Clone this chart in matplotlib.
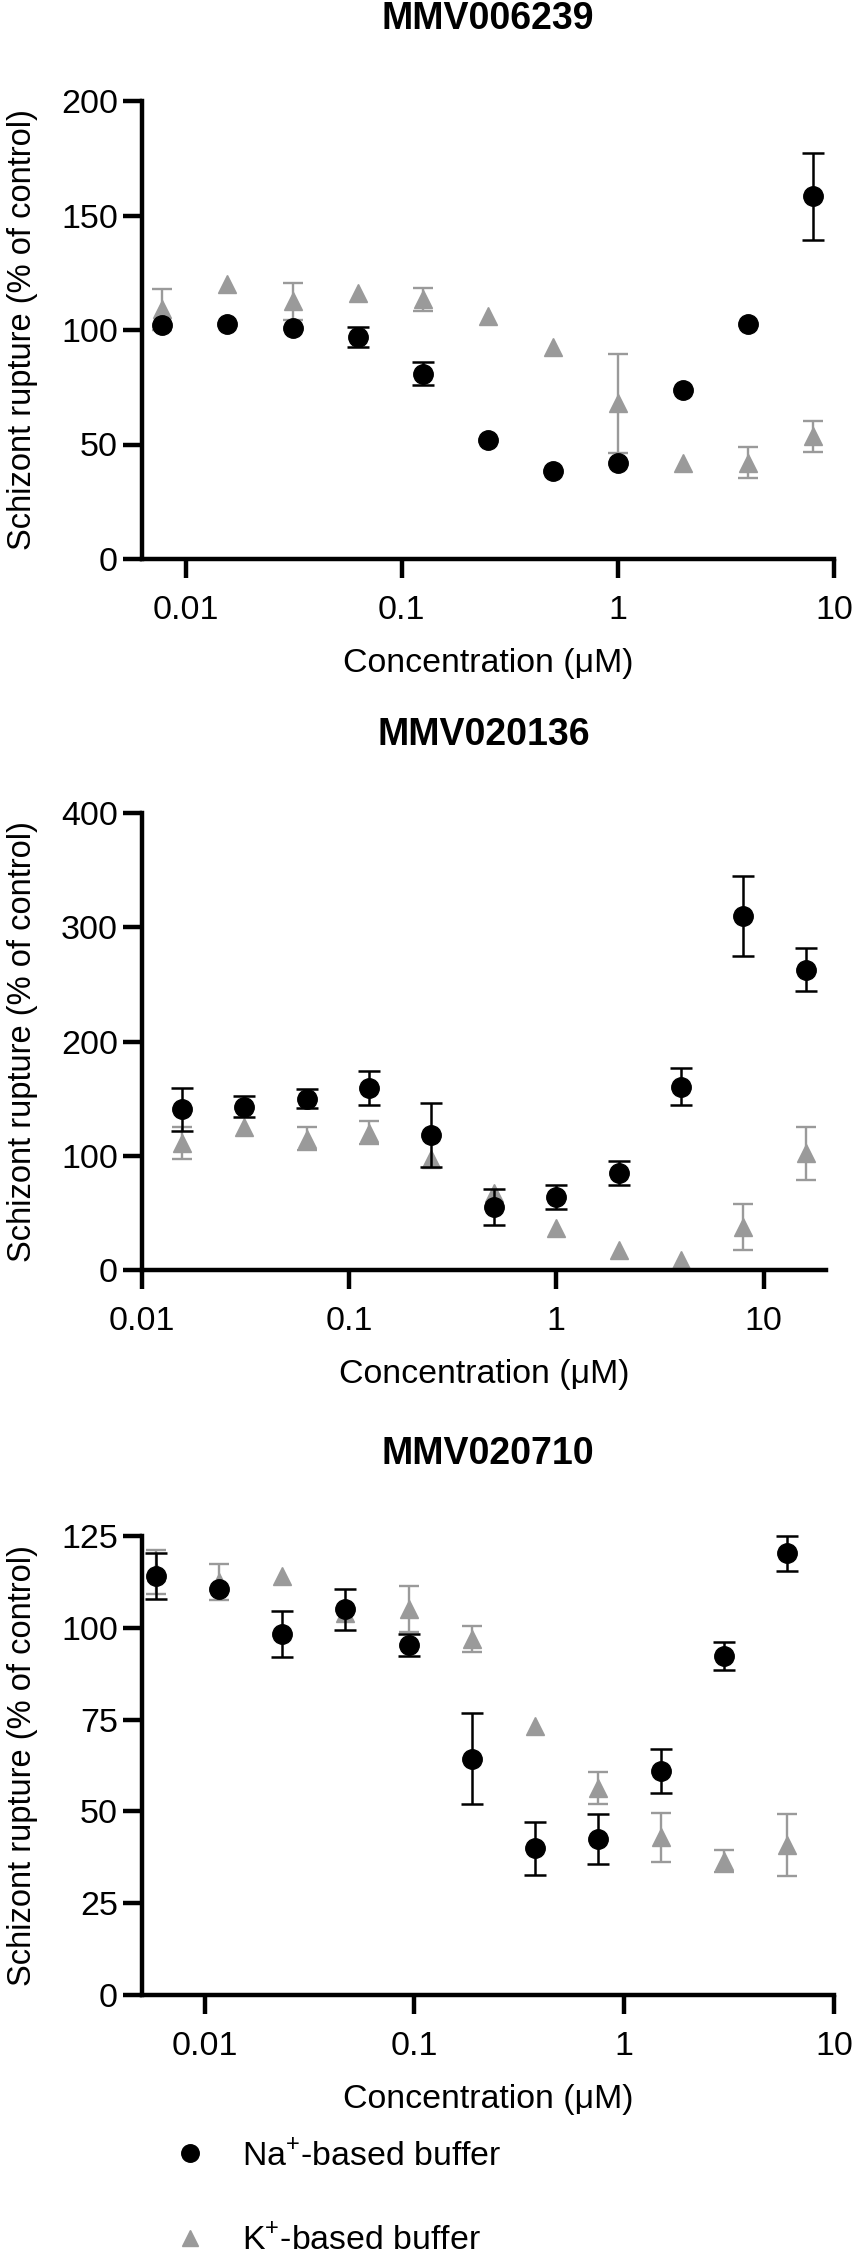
import numpy as np
import matplotlib
matplotlib.use("Agg")
import matplotlib.pyplot as plt
from matplotlib.ticker import FixedLocator, FixedFormatter, NullLocator

plt.rcParams['font.family'] = ['Liberation Sans', 'DejaVu Sans']
plt.rcParams['mathtext.fontset'] = 'custom'
plt.rcParams['mathtext.rm'] = 'Liberation Sans'

nan = np.nan

# MMV006239
conc1 = [0.0078125, 0.015625, 0.03125, 0.0625, 0.125, 0.25, 0.5, 1, 2, 4, 8]
na1 = [102, 102.5, 101, 97, 81, 52, 38.5, 42, 74, 102.5, 158.5]
na1_err = [nan, nan, nan, 4.5, 5, nan, nan, nan, nan, nan, 19]
k1 = [109, 120, 112.5, 116, 113.5, 106, 92.5, 68, 42, 42, 53.5]
k1_err = [9, nan, 8, nan, 5, nan, nan, 21.5, nan, 6.7, 6.8]

# MMV020136
conc2 = [0.015625, 0.03125, 0.0625, 0.125, 0.25, 0.5, 1, 2, 4, 8, 16]
na2 = [140.5, 143, 150, 159.5, 118, 55, 64, 85, 160.5, 310, 263]
na2_err = [19, 9, 8, 15, 28, 16, 10.5, 10.5, 16, 35, 19]
k2 = [111, 125.5, 115, 120, 97.5, 67, 36.5, 17.5, 8.5, 37.5, 102]
k2_err = [14, nan, 10, 10, nan, nan, nan, nan, nan, 20, 23]

# MMV020710
conc3 = [0.005859375, 0.01171875, 0.0234375, 0.046875, 0.09375, 0.1875,
         0.375, 0.75, 1.5, 3, 6]
na3 = [114.2, 110.5, 98.3, 105, 95.3, 64.3, 40, 42.5, 61, 92.3, 120.3]
na3_err = [6.3, nan, 6.2, 5.5, 2.9, 12.4, 7.2, 6.9, 6, 3.7, 4.7]
k3 = [115.2, 112.5, 114.2, 104, 105.2, 97, 73.3, 56.4, 42.9, 36.6, 40.9]
k3_err = [6, 5, nan, nan, 6.3, 3.5, nan, 4.4, 6.8, 3, 8.4]

titles = ['MMV006239', 'MMV020136', 'MMV020710']
xlims = [(0.00626, 10), (0.01, 20), (0.005, 10)]
yticks = [[0, 50, 100, 150, 200], [0, 100, 200, 300, 400],
          [0, 25, 50, 75, 100, 125]]
xtick_vals = [0.01, 0.1, 1, 10]
xtick_labels = ['0.01', '0.1', '1', '10']

panels = [(conc1, na1, na1_err, k1, k1_err),
          (conc2, na2, na2_err, k2, k2_err),
          (conc3, na3, na3_err, k3, k3_err)]

W, H = 856, 2256
# axes boxes in pixels: left, right, top, bottom
boxes = [(141.6, 834, 101, 559), (141.6, 826, 813, 1270), (141.6, 834, 1536, 1995)]
title_y = [19, 735, 1454]

GRAY = '#9a9a9a'
fig = plt.figure(figsize=(W / 100, H / 100), dpi=100)

handles = []
for i, (conc, na, na_err, k, k_err) in enumerate(panels):
    l, r, t, b = boxes[i]
    ax = fig.add_axes([l / W, 1 - b / H, (r - l) / W, (b - t) / H])
    ek = ax.errorbar(conc, k, yerr=k_err, fmt='^', color=GRAY, ms=13,
                     capsize=7.5, elinewidth=1.7, capthick=1.7, zorder=2,
                     clip_on=False)
    en = ax.errorbar(conc, na, yerr=na_err, fmt='o', color='black', ms=14,
                     capsize=8, elinewidth=1.8, capthick=1.8, zorder=3,
                     clip_on=False)
    ax.set_xscale('log')
    ax.set_xlim(*xlims[i])
    ax.set_ylim(yticks[i][0], yticks[i][-1])
    ax.xaxis.set_major_locator(FixedLocator(xtick_vals))
    ax.xaxis.set_major_formatter(FixedFormatter(xtick_labels))
    ax.xaxis.set_minor_locator(NullLocator())
    ax.set_yticks(yticks[i])
    for s in ['top', 'right']:
        ax.spines[s].set_visible(False)
    for s in ['left', 'bottom']:
        ax.spines[s].set_linewidth(3.2)
    ax.tick_params(axis='both', width=3.2, length=14, labelsize=24.5)
    ax.tick_params(axis='x', pad=12)
    ax.tick_params(axis='y', pad=3)
    ax.set_xlabel('Concentration (\u03bcM)', fontsize=24.4, labelpad=16)
    ax.set_ylabel('Schizont rupture (% of control)', fontsize=23.5)
    ax.yaxis.set_label_coords((38 - l) / (r - l), 0.5)
    fig.text(((l + r) / 2) / W, 1 - title_y[i] / H, titles[i], fontsize=27,
             fontweight='bold', ha='center', va='center')
    if i == 2:
        handles = [en[0], ek[0]]

fig.legend(handles, ['Na$^{+}$-based buffer', 'K$^{+}$-based buffer'],
           loc='upper left', bbox_to_anchor=(173 / W, 1 - 2140 / H),
           frameon=False, fontsize=24.4, handlelength=1.0, handletextpad=1.05,
           labelspacing=1.55, borderpad=0, borderaxespad=0, markerscale=0.9)

fig.savefig('out.png', dpi=100)
